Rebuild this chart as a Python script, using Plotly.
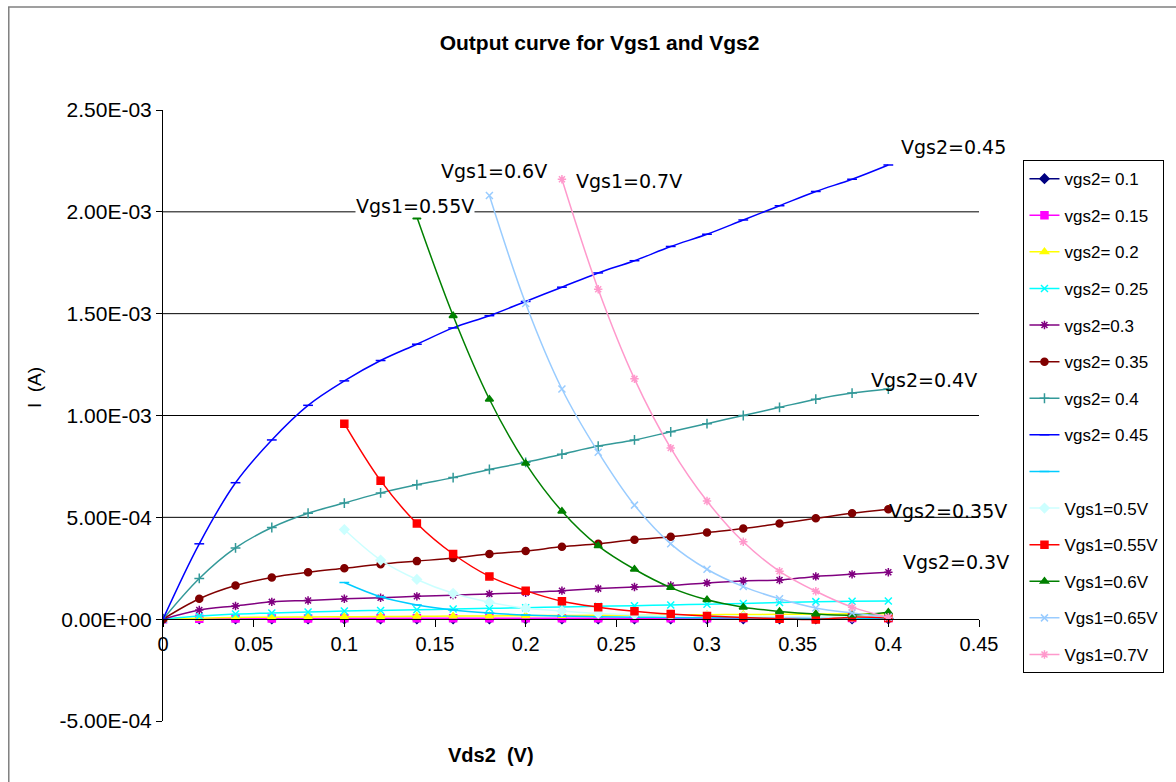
import plotly.graph_objects as go

# ---------------- data ----------------
vds_full = [0, 0.02, 0.04, 0.06, 0.08, 0.10, 0.12, 0.14, 0.16, 0.18, 0.20,
            0.22, 0.24, 0.26, 0.28, 0.30, 0.32, 0.34, 0.36, 0.38, 0.40]

vgs2_010 = [0, 1e-6, 1e-6, 1e-6, 1e-6, 1e-6, 1e-6, 1e-6, 1e-6, 1e-6, 1e-6,
            1e-6, 1e-6, 1e-6, 1e-6, 1e-6, 1e-6, 1e-6, 1e-6, 1e-6, 1e-6]
vgs2_015 = [0, 2e-6, 3e-6, 3e-6, 3e-6, 4e-6, 4e-6, 4e-6, 4e-6, 4e-6, 5e-6,
            5e-6, 5e-6, 5e-6, 5e-6, 5e-6, 6e-6, 6e-6, 6e-6, 6e-6, 6e-6]
vgs2_020 = [0, 5e-6, 8e-6, 1.0e-5, 1.1e-5, 1.2e-5, 1.3e-5, 1.4e-5, 1.5e-5, 1.6e-5, 1.7e-5,
            1.8e-5, 1.9e-5, 2.0e-5, 2.1e-5, 2.2e-5, 2.3e-5, 2.4e-5, 2.5e-5, 2.6e-5, 2.7e-5]
vgs2_025 = [0, 1.5e-5, 2.5e-5, 3.0e-5, 3.5e-5, 4.0e-5, 4.3e-5, 4.6e-5, 5.0e-5, 5.3e-5, 5.6e-5,
            6.0e-5, 6.3e-5, 6.6e-5, 7.0e-5, 7.3e-5, 7.7e-5, 8.2e-5, 8.6e-5, 8.8e-5, 8.9e-5]
vgs2_030 = [0, 4.5e-5, 6.5e-5, 8.5e-5, 9.2e-5, 1.0e-4, 1.05e-4, 1.12e-4, 1.18e-4, 1.24e-4, 1.30e-4,
            1.40e-4, 1.50e-4, 1.58e-4, 1.65e-4, 1.78e-4, 1.88e-4, 1.92e-4, 2.10e-4, 2.20e-4, 2.30e-4]
vgs2_035 = [0, 1.0e-4, 1.65e-4, 2.05e-4, 2.3e-4, 2.5e-4, 2.7e-4, 2.85e-4, 3.0e-4, 3.2e-4, 3.35e-4,
            3.55e-4, 3.7e-4, 3.9e-4, 4.05e-4, 4.25e-4, 4.45e-4, 4.7e-4, 4.95e-4, 5.2e-4, 5.4e-4]
vgs2_040 = [0, 2.0e-4, 3.5e-4, 4.5e-4, 5.2e-4, 5.7e-4, 6.2e-4, 6.6e-4, 6.95e-4, 7.35e-4, 7.7e-4,
            8.1e-4, 8.5e-4, 8.8e-4, 9.2e-4, 9.6e-4, 1.0e-3, 1.04e-3, 1.08e-3, 1.11e-3, 1.13e-3]
vgs2_045 = [0, 3.7e-4, 6.7e-4, 8.8e-4, 1.05e-3, 1.17e-3, 1.27e-3, 1.35e-3, 1.43e-3, 1.49e-3, 1.56e-3,
            1.63e-3, 1.70e-3, 1.76e-3, 1.83e-3, 1.89e-3, 1.96e-3, 2.03e-3, 2.10e-3, 2.16e-3, 2.23e-3]

vds_from010 = [0.10, 0.12, 0.14, 0.16, 0.18, 0.20, 0.22, 0.24, 0.26, 0.28,
               0.30, 0.32, 0.34, 0.36, 0.38, 0.40]
vds_from014 = [0.14, 0.16, 0.18, 0.20, 0.22, 0.24, 0.26, 0.28, 0.30, 0.32,
               0.34, 0.36, 0.38, 0.40]
vds_from018 = [0.18, 0.20, 0.22, 0.24, 0.26, 0.28, 0.30, 0.32, 0.34, 0.36, 0.38, 0.40]
vds_from022 = [0.22, 0.24, 0.26, 0.28, 0.30, 0.32, 0.34, 0.36, 0.38, 0.40]

vgs1_unnamed = [1.8e-4, 1.1e-4, 7.0e-5, 4.5e-5, 3.0e-5, 2.0e-5, 1.5e-5, 1.2e-5, 1.0e-5, 8e-6,
                7e-6, 6e-6, 5e-6, 5e-6, 4e-6, 4e-6]
vgs1_050 = [4.4e-4, 2.9e-4, 1.95e-4, 1.27e-4, 8.3e-5, 5.4e-5, 4.0e-5, 2.8e-5, 2.2e-5, 1.8e-5,
            1.5e-5, 1.3e-5, 1.2e-5, 1.1e-5, 1.0e-5, 1.0e-5]
vgs1_055 = [9.6e-4, 6.8e-4, 4.7e-4, 3.2e-4, 2.1e-4, 1.4e-4, 8.8e-5, 5.9e-5, 3.9e-5, 2.5e-5,
            1.5e-5, 8e-6, 2e-6, -2e-6, 1.0e-5, 6e-6]
vgs1_060 = [1.975e-3, 1.49e-3, 1.08e-3, 7.65e-4, 5.3e-4, 3.6e-4, 2.45e-4, 1.55e-4, 9.5e-5, 5.9e-5,
            3.8e-5, 2.5e-5, 2.0e-5, 3.4e-5]
vgs1_065 = [2.08e-3, 1.55e-3, 1.13e-3, 8.2e-4, 5.6e-4, 3.7e-4, 2.45e-4, 1.6e-4, 1.0e-4, 5.5e-5,
            3.0e-5, 1.0e-5]
vgs1_070 = [2.16e-3, 1.62e-3, 1.18e-3, 8.4e-4, 5.8e-4, 3.8e-4, 2.35e-4, 1.37e-4, 5.9e-5, 1.0e-5]

y_tickvals = [-5e-4, 0, 5e-4, 1e-3, 1.5e-3, 2e-3, 2.5e-3]
y_ticktext = ["-5.00E-04", "0.00E+00", "5.00E-04", "1.00E-03", "1.50E-03", "2.00E-03", "2.50E-03"]
gridlines = [5e-4, 1e-3, 1.5e-3, 2e-3]
x_tickvals = [0, 0.05, 0.1, 0.15, 0.2, 0.25, 0.3, 0.35, 0.4, 0.45]

curve_labels = [
    ("Vgs2=0.45", 0.4064, 2.318e-3, False),
    ("Vgs2=0.4V", 0.390, 1.176e-3, False),
    ("Vgs2=0.35V", 0.400, 5.29e-4, False),
    ("Vgs2=0.3V", 0.4074, 2.79e-4, False),
    ("Vgs1=0.55V", 0.1057, 2.03e-3, True),
    ("Vgs1=0.6V", 0.1526, 2.20e-3, False),
    ("Vgs1=0.7V", 0.2272, 2.15e-3, False),
]

# ---------------- figure ----------------
series = [
    ("vgs2= 0.1", vds_full, vgs2_010, "#000080", "diamond"),
    ("vgs2= 0.15", vds_full, vgs2_015, "#FF00FF", "square"),
    ("vgs2= 0.2", vds_full, vgs2_020, "#FFFF00", "triangle-up"),
    ("vgs2= 0.25", vds_full, vgs2_025, "#00FFFF", "x-thin-open"),
    ("vgs2=0.3", vds_full, vgs2_030, "#800080", "asterisk-open"),
    ("vgs2= 0.35", vds_full, vgs2_035, "#800000", "circle"),
    ("vgs2= 0.4", vds_full, vgs2_040, "#339999", "cross-thin-open"),
    ("vgs2= 0.45", vds_full, vgs2_045, "#0000FF", "line-ew-open"),
    (" ", vds_from010, vgs1_unnamed, "#00CCFF", "line-ew-open"),
    ("Vgs1=0.5V", vds_from010, vgs1_050, "#CCFFFF", "diamond"),
    ("Vgs1=0.55V", vds_from010, vgs1_055, "#FF0000", "square"),
    ("Vgs1=0.6V", vds_from014, vgs1_060, "#008000", "triangle-up"),
    ("Vgs1=0.65V", vds_from018, vgs1_065, "#99CCFF", "x-thin-open"),
    ("Vgs1=0.7V", vds_from022, vgs1_070, "#FF99CC", "asterisk-open"),
]

fig = go.Figure()
for i, (name, xs, ys, color, sym) in enumerate(series):
    fig.add_trace(go.Scatter(
        x=xs, y=ys, name=name, mode="lines+markers",
        legendgroup=f"g{i}",
        line=dict(color=color, width=1.5, shape="spline"),
        marker=dict(color=color, symbol=sym, size=7,
                    line=dict(color=color, width=1.5)),
    ))

shapes = [dict(type="line", xref="x domain", x0=0, x1=1, yref="y", y0=g, y1=g,
               line=dict(color="black", width=1), layer="below") for g in gridlines]
shapes.append(dict(type="rect", xref="paper", yref="paper", x0=-0.189, x1=1.3,
                   y0=-0.3, y1=1.1686, line=dict(color="#808080", width=1.5),
                   fillcolor="rgba(0,0,0,0)", layer="below"))

annotations = []
for text, ax, ay, bg in curve_labels:
    annotations.append(dict(text=text, x=ax, y=ay, xref="x", yref="y",
                            xanchor="left", yanchor="middle", showarrow=False,
                            bgcolor="white" if bg else "rgba(0,0,0,0)", borderpad=0,
                            font=dict(family="DejaVu Sans", size=19, color="black")))
annotations.append(dict(text="I  (A)", x=-0.158, y=0.545, xref="paper", yref="paper",
                        textangle=-90, showarrow=False, xanchor="center", yanchor="middle",
                        font=dict(family="Liberation Sans, Arial", size=19, color="black")))
annotations.append(dict(text="<b>Vds2  (V)</b>", x=0.4024, y=-0.0556, xref="paper", yref="paper",
                        showarrow=False, xanchor="center", yanchor="middle",
                        font=dict(family="Liberation Sans, Arial", size=20, color="black")))

fig.update_layout(
    width=1176, height=782,
    margin=dict(l=163, r=188, t=110, b=61),
    paper_bgcolor="white", plot_bgcolor="white",
    font=dict(family="Liberation Sans, Arial", color="black"),
    title=dict(text="<b>Output curve for Vgs1 and Vgs2</b>", x=0.5098, y=1 - 43 / 782,
               xanchor="center", yanchor="middle", xref="container", yref="container",
               font=dict(size=21, family="Liberation Sans, Arial", color="black")),
    xaxis=dict(range=[0, 0.45], tickvals=x_tickvals, showgrid=False, zeroline=False,
               showline=True, linecolor="black", linewidth=1, ticks="outside", ticklen=7,
               tickcolor="black", anchor="free", position=1 / 6,
               tickfont=dict(size=20, family="Liberation Sans, Arial")),
    yaxis=dict(range=[-5e-4, 2.5e-3], tickvals=y_tickvals, ticktext=y_ticktext,
               showgrid=False, zeroline=False, showline=True, linecolor="black",
               linewidth=1, ticks="outside", ticklen=6, tickcolor="black",
               tickfont=dict(size=21, family="Liberation Sans, Arial")),
    legend=dict(x=1.0545, y=0.918, xanchor="left", yanchor="top",
                bordercolor="black", borderwidth=1, bgcolor="white",
                font=dict(size=17, family="Liberation Sans, Arial"),
                tracegroupgap=11.5),
    shapes=shapes, annotations=annotations,
)

fig.write_html("out.html")
